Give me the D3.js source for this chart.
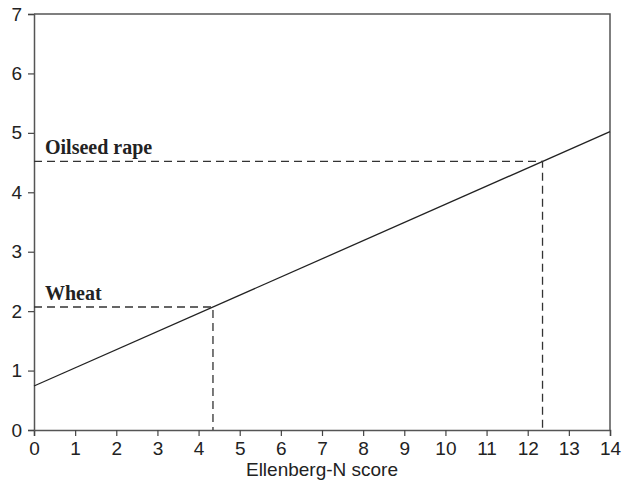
<!DOCTYPE html>
<html><head><meta charset="utf-8">
<script src="https://cdn.jsdelivr.net/npm/d3@7"></script>
<style>body{margin:0;background:#fff}svg{display:block}</style>
</head><body>
<svg id="c" width="622" height="497"></svg>
<script>
const xTicks = [0,1,2,3,4,5,6,7,8,9,10,11,12,13,14];
const yTicks = [0,1,2,3,4,5,6,7];
const lineX = [0, 14];
const lineY = [0.74, 5.02];
const cropNames = ["Wheat", "Oilseed rape"];
const cropX = [4.35, 12.36];
const cropY = [2.07, 4.52];
const xTitle = "Ellenberg-N score";

const svg = d3.select("#c");
const m = {l:34, r:12, t:14, b:67};
const W = 622, H = 497;
const x = d3.scaleLinear().domain([0,14]).range([m.l, W-m.r]);
const y = d3.scaleLinear().domain([0,7]).range([H-m.b, m.t]);
const font = "'Liberation Sans', Arial, sans-serif";

// frame top/right
svg.append("path").attr("d", `M${x(0)},${y(7)}H${x(14)}V${y(0)}`)
  .attr("fill","none").attr("stroke","#555").attr("stroke-width",1.5);

const xa = svg.append("g").attr("transform",`translate(0,${y(0)})`)
  .call(d3.axisBottom(x).tickValues(xTicks).tickFormat(d3.format("d")).tickSize(6).tickPadding(6));
const ya = svg.append("g").attr("transform",`translate(${x(0)},0)`)
  .call(d3.axisLeft(y).tickValues(yTicks).tickFormat(d3.format("d")).tickSize(6).tickPadding(6));
[xa, ya].forEach(a => {
  a.select(".domain").attr("stroke","#555").attr("stroke-width",1.5);
  a.selectAll(".tick line").attr("stroke","#444").attr("stroke-width",1.2);
  a.selectAll("text").attr("font-family",font).attr("font-size",19).attr("fill","#222");
});

// regression line
svg.append("line").attr("x1",x(lineX[0])).attr("y1",y(lineY[0]))
  .attr("x2",x(lineX[1])).attr("y2",y(lineY[1]))
  .attr("stroke","#222").attr("stroke-width",1.3);

// dashed guides and labels
cropNames.forEach((n,i) => {
  svg.append("path").attr("d",`M${x(0)},${y(cropY[i])}H${x(cropX[i])}V${y(0)}`)
    .attr("fill","none").attr("stroke","#333").attr("stroke-width",1.3)
    .attr("stroke-dasharray","8,5");
  svg.append("text").attr("x", x(0)+11).attr("y", y(cropY[i])-7)
    .attr("font-family","'Liberation Serif', 'Times New Roman', serif")
    .attr("font-weight","bold").attr("font-size",20).attr("fill","#222").text(n);
});

svg.append("text").attr("x",(x(0)+x(14))/2).attr("y",H-21)
  .attr("text-anchor","middle").attr("font-family",font).attr("font-size",19)
  .attr("fill","#222").text(xTitle);
</script>
</body></html>
